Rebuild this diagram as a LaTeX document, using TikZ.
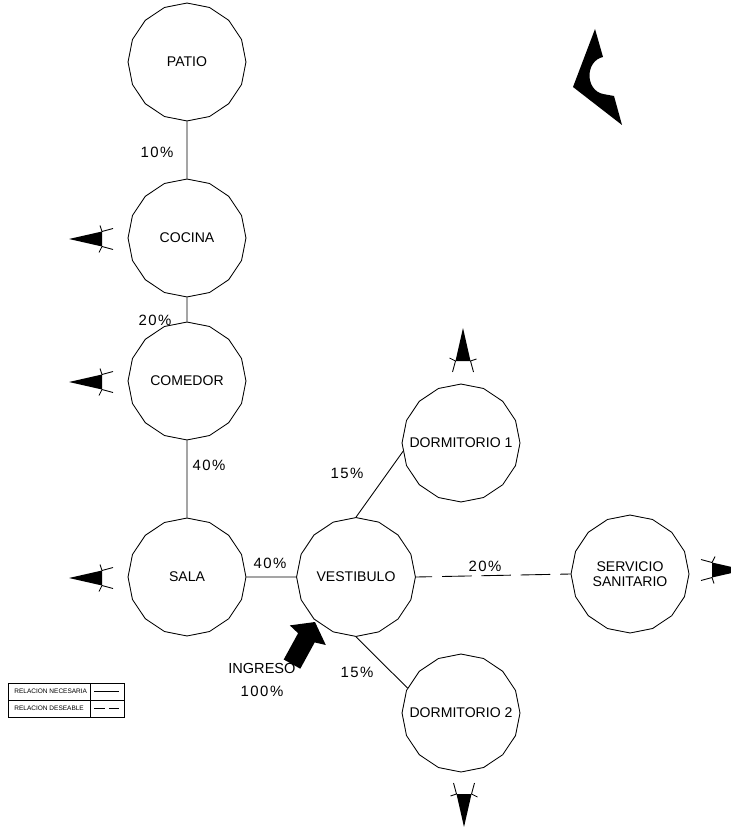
\documentclass[tikz,border=0pt]{standalone}
\usepackage{fontspec}
\setmainfont{Liberation Sans}
\newfontfamily\pctfont[LetterSpace=10]{Liberation Sans}
\usetikzlibrary{shapes,arrows,positioning,calc}

\begin{document}
\begin{tikzpicture}[x=0.02cm,y=-0.02cm,line width=0.5pt]
  \tikzstyle{space} = [regular polygon, regular polygon sides=16, shape border rotate=11.25, draw, minimum size=2.36cm, inner sep=1pt, align=center, font=\fontsize{8}{8.5}\selectfont]
  \tikzstyle{pct} = [inner sep=0pt, font=\pctfont\fontsize{8.5}{10}\selectfont]
  \tikzstyle{wish} = [dash pattern=on 16.8pt off 5.6pt, dash phase=7.5pt]
  \tikzstyle{legend} = [inner sep=0pt, anchor=west, font=\fontsize{3.7}{4.5}\selectfont]
  \tikzset{window/.pic={
      \fill (-33,0) -- (0,-7.5) -- (0,7.5) -- cycle;
      \draw (-2,-13.5) -- (0,-7.5) -- (11,-10.5);
      \draw (-3,13.5) -- (0,7.5) -- (11,10.5);
  }}
  \useasboundingbox (0,0) rectangle (730,827);

  % spaces
  \node [space] (patio) at (187,62) {PATIO};
  \node [space] (cocina) at (187,238) {COCINA};
  \node [space] (comedor) at (187,381) {COMEDOR};
  \node [space] (sala) at (187,577) {SALA};
  \node [space] (vestibulo) at (356,577) {VESTIBULO};
  \node [space] (dorm1) at (461,443) {\makebox[0pt]{DORMITORIO 1}};
  \node [space] (dorm2) at (461,713) {\makebox[0pt]{DORMITORIO 2}};
  \node [space] (servicio) at (630,574) {SERVICIO\\SANITARIO};

  % relations
  \draw (patio) -- (cocina);
  \draw (cocina) -- (comedor);
  \draw (comedor) -- (sala);
  \draw (sala) -- (vestibulo);
  \draw (vestibulo.north) -- (dorm1.188);
  \draw (vestibulo.south) -- (dorm2.155);
  \draw [wish] (vestibulo.east) -- (servicio.west);

  \node [pct] (p1) at (157,152) {10\%};
  \node [pct] (p2) at (155,320) {20\%};
  \node [pct] (p3) at (209,465) {40\%};
  \node [pct] (p4) at (270,563) {40\%};
  \node [pct] (p5) at (347,473) {15\%};
  \node [pct] (p6) at (485,566) {20\%};
  \node [pct] (p7) at (357,672) {15\%};

  % ingreso
  \fill (315,622) -- (325.8,645) -- (314.7,642.4) -- (300.3,668.7) -- (283.7,659.5) -- (298.1,633.2) -- (289.8,625.4) -- cycle;
  \node [anchor=east, inner sep=0pt, font=\fontsize{8.3}{9}\selectfont] (ingreso) at (296,668) {INGRESO};
  \node [pct] (p8) at (262,691) {100\%};

  % windows
  \pic at (102,239) {window};
  \pic at (102,382) {window};
  \pic at (102,578) {window};
  \pic [rotate=-90] at (463,361) {window};
  \pic [rotate=90] at (464,794) {window};
  \pic [rotate=180] at (712,570) {window};

  % north
  \fill (595,29) -- (603,57) .. controls (585,61) and (585,90) .. (603,94) -- (614,96) -- (622,125) -- (573,87) -- cycle;

  % legend
  \draw (8,683) rectangle (124,717);
  \draw (8,700) -- (124,700);
  \draw (90,683) -- (90,717);
  \node [legend] (nec) at (14,691.5) {RELACION NECESARIA};
  \node [legend] (des) at (14,708.5) {RELACION DESEABLE};
  \draw (94,691.5) -- (119,691.5);
  \draw [dash pattern=on 6pt off 2.5pt] (94,708.5) -- (119,708.5);
\end{tikzpicture}
\end{document}
